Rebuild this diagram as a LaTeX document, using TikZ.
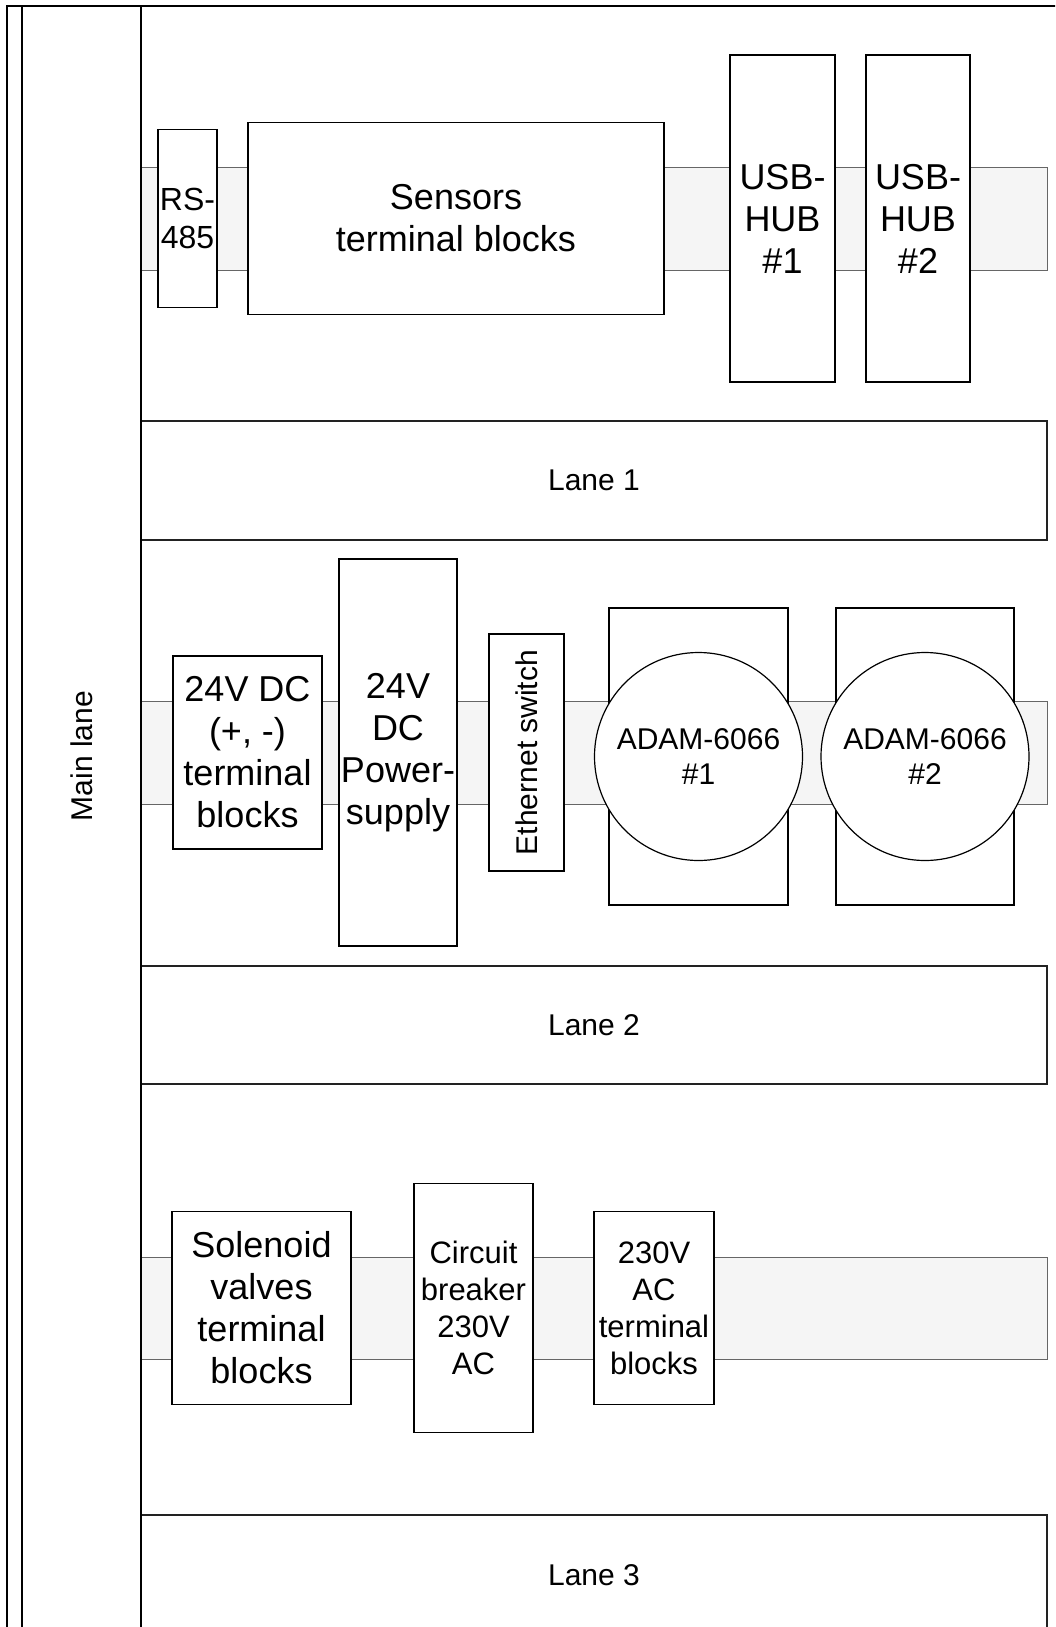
\documentclass[tikz,border=0pt]{standalone}
\usepackage{fontspec}
\setmainfont{Liberation Sans}
\definecolor{railbg}{HTML}{F5F5F5}
\definecolor{railedge}{HTML}{666666}
\definecolor{laneedge}{HTML}{222222}
\usetikzlibrary{positioning}

\newcommand{\bigtxt}{\fontsize{36}{42}\selectfont}
\newcommand{\midtxt}{\fontsize{31}{37}\selectfont}
\newcommand{\lanetxt}{\fontsize{30}{35}\selectfont}

\begin{document}
\begin{tikzpicture}[x=1pt, y=-1pt,
      box/.style={draw, fill=white, inner sep=0pt, outer sep=0pt,
                  line width=1.2pt, align=center, font=\bigtxt},
      rail/.style={draw=railedge, fill=railbg, inner sep=0pt, outer sep=0pt,
                   line width=1pt, minimum width=906pt, minimum height=103pt},
      lanebox/.style={draw=laneedge, line width=1.4pt, inner sep=0pt,
                      minimum width=906pt, font=\lanetxt},
      adam/.style={circle, draw, fill=white, line width=1.2pt, inner sep=0pt,
                   minimum size=208pt, align=center, font=\lanetxt}
  ]
    \useasboundingbox (0,0) rectangle (1055,1627);
    \clip (0,0) rectangle (1055,1627);

    % din rails
    \node[rail] (rail1) at (594,218.5) {};
    \node[rail] (rail2) at (594,752.5) {};
    \node[rail, minimum height=102pt] (rail3) at (594,1308) {};

    % row 1
    \node[box, minimum width=59pt, minimum height=178pt, font=\fontsize{32}{38}\selectfont,
          right=17pt of rail1.west] (rs485) {RS-\\485};
    \node[box, minimum width=416pt, minimum height=192pt, right=31pt of rs485] (sensors) {Sensors\\terminal blocks};
    \node[box, minimum width=105pt, minimum height=327pt, right=66pt of sensors] (usbone) {USB-\\HUB\\\#1};
    \node[box, minimum width=104pt, minimum height=327pt, right=31pt of usbone] (usbtwo) {USB-\\HUB\\\#2};

    \node[lanebox, minimum height=119pt] (laneone) at (594,480.5) {Lane 1};

    % row 2
    \node[box, minimum width=149pt, minimum height=193pt, right=32pt of rail2.west] (dcterm) {24V DC\\(+, -)\\terminal\\blocks};
    \node[box, minimum width=118pt, minimum height=387pt, right=17pt of dcterm] (psu) {24V\\DC\\Power-\\supply};
    \node[box, minimum width=75pt, minimum height=237pt, right=32pt of psu] (ethsw) {};
    \node[rotate=90, font=\lanetxt, inner sep=0pt] (ethtxt) at (ethsw) {Ethernet switch};
    \node[box, minimum width=179pt, minimum height=297pt, yshift=-4pt, right=45pt of ethsw] (adamboxone) {};
    \node[box, minimum width=178pt, minimum height=297pt, right=48pt of adamboxone] (adamboxtwo) {};
    \node[adam] (adamone) at (adamboxone) {ADAM-6066\\\#1};
    \node[adam] (adamtwo) at (adamboxtwo) {ADAM-6066\\\#2};

    \node[lanebox, minimum height=118pt] (lanetwo) at (594,1025) {Lane 2};

    % row 3
    \node[box, minimum width=179pt, minimum height=193pt, right=31pt of rail3.west] (solenoid) {Solenoid\\valves\\terminal\\blocks};
    \node[box, minimum width=119pt, minimum height=249pt, font=\midtxt, right=63pt of solenoid] (breaker) {Circuit\\breaker\\230V\\AC};
    \node[box, minimum width=120pt, minimum height=193pt, font=\midtxt, right=61pt of breaker] (acterm) {230V\\AC\\terminal\\blocks};

    \node[lanebox, minimum height=120pt] (lanethree) at (594,1575) {Lane 3};

    % pool frame
    \draw[line width=1.3pt] (7,1640) -- (7,6) -- (1060,6);
    \draw[line width=1.3pt] (22,6) -- (22,1640);
    \draw[line width=1.3pt] (141,6) -- (141,1640);
    \node[rotate=90, font=\lanetxt] (mainlane) at (81.5,756) {Main lane};
  \end{tikzpicture}
\end{document}
